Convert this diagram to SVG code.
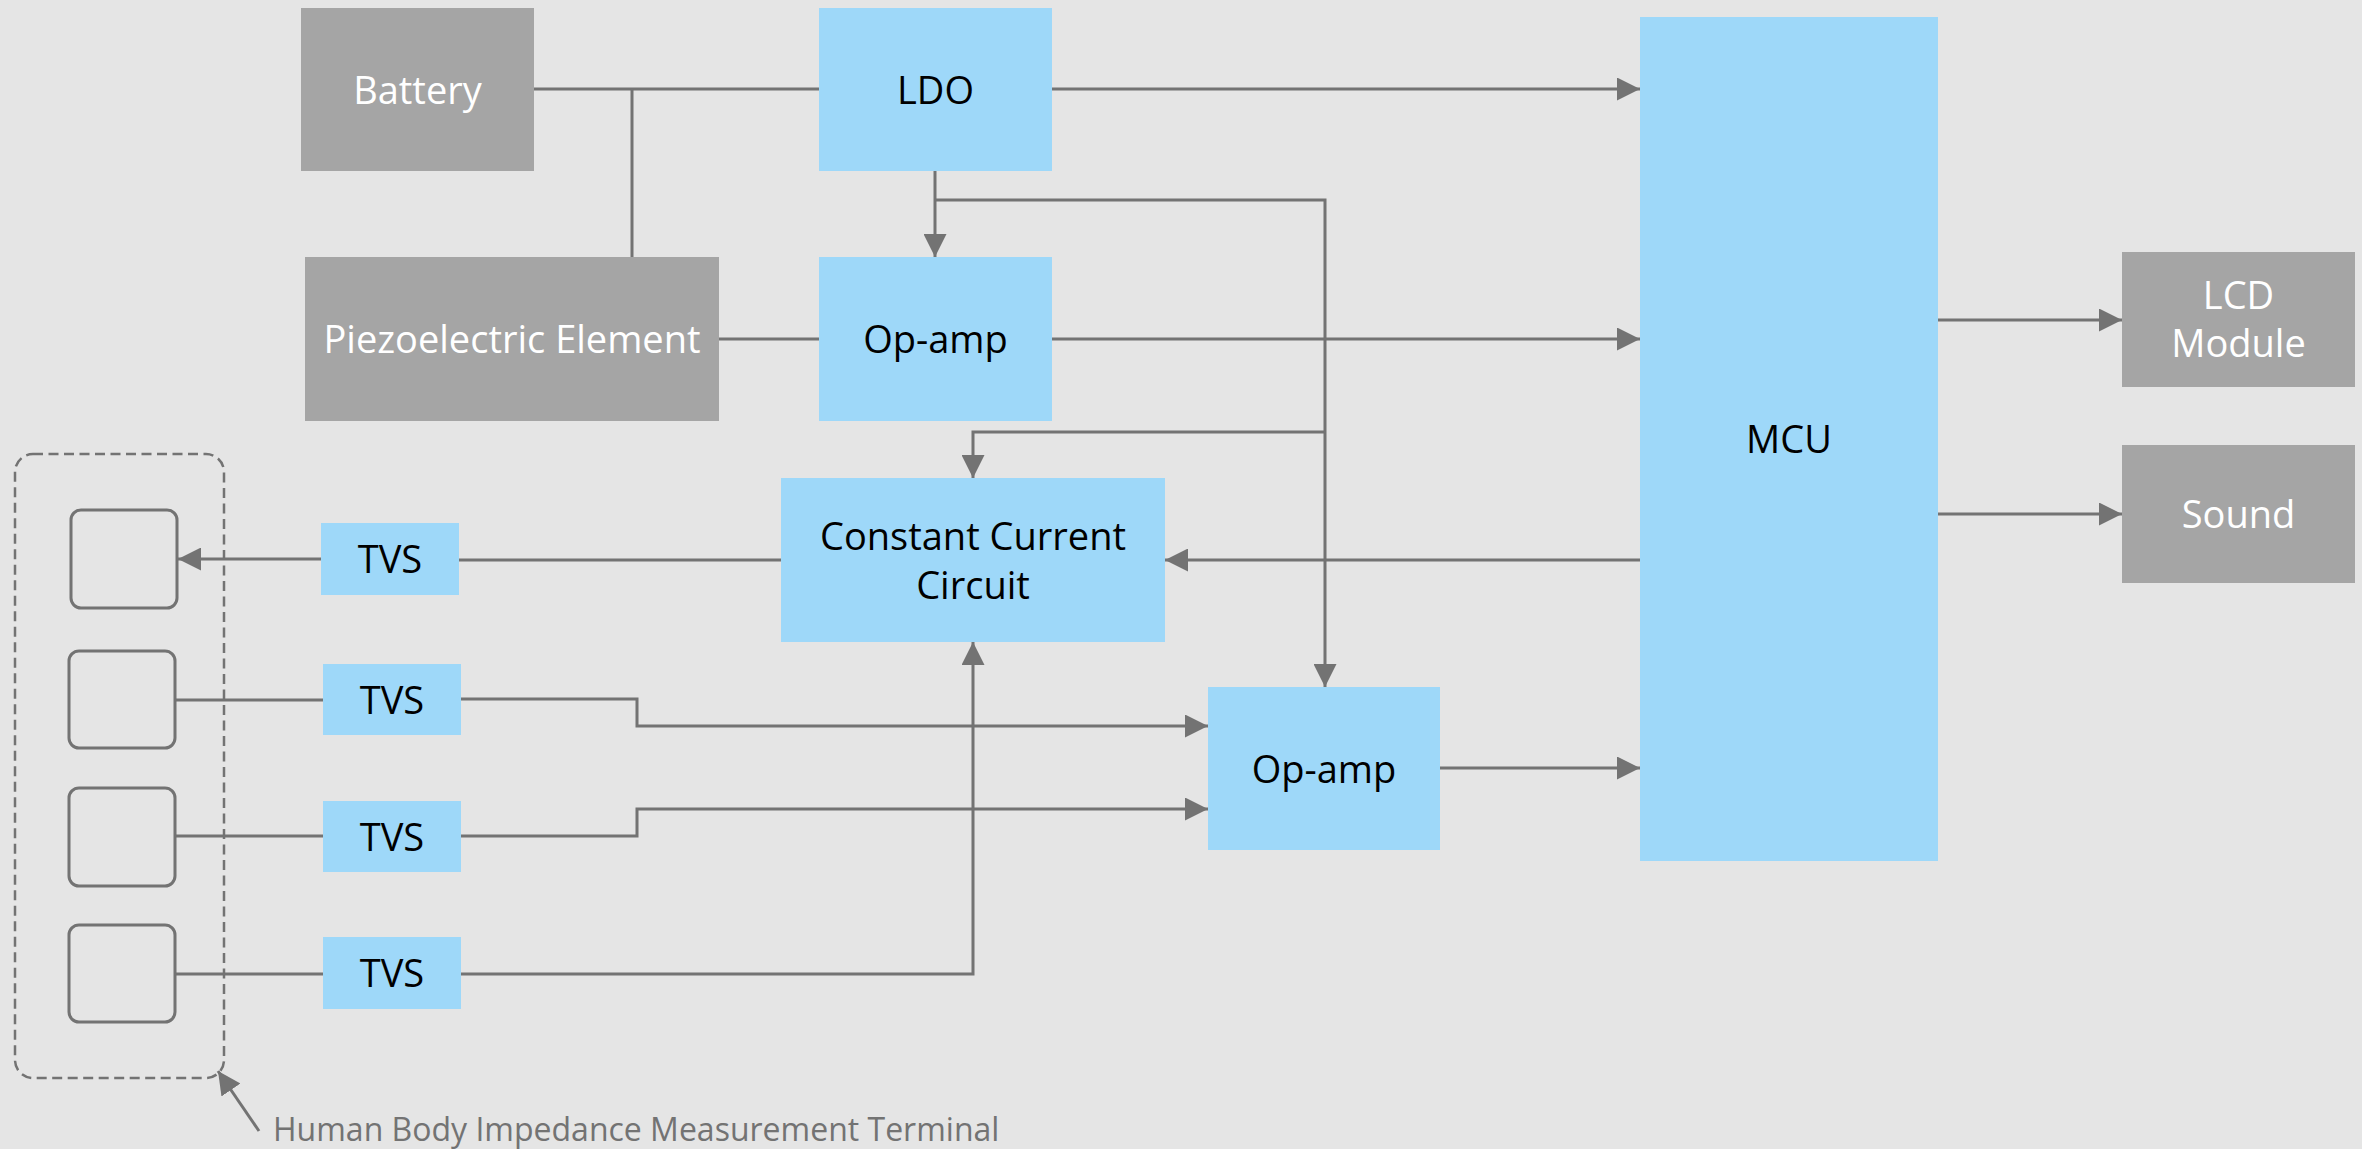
<svg xmlns="http://www.w3.org/2000/svg" width="2362" height="1149" viewBox="0 0 2362 1149">
<defs>
<style>
.bg{fill:#E5E5E5}
.gray{fill:#A5A5A5}
.blue{fill:#9ED8F9}
.tw{font-family:"Open Sans","Noto Sans",sans-serif;font-size:38px;fill:#FFFFFF;text-anchor:middle;dominant-baseline:central}
.tb{font-family:"Open Sans","Noto Sans",sans-serif;font-size:38px;fill:#000000;text-anchor:middle;dominant-baseline:central}
.term{fill:none;stroke:#737373;stroke-width:3}
.dash{fill:none;stroke:#737373;stroke-width:2.5;stroke-dasharray:10 5.5}
.conn path{fill:none;stroke:#737373;stroke-width:3}
.lbl{font-family:"Open Sans","Noto Sans",sans-serif;font-size:32px;fill:#737373}
</style>
<marker id="arr" markerUnits="userSpaceOnUse" markerWidth="23" markerHeight="23" refX="23" refY="11.5" orient="auto">
<path d="M0,0 L23,11.5 L0,23 Z" fill="#737373"/>
</marker>
</defs>
<rect class="bg" x="0" y="0" width="2362" height="1149"/>

<g id="battery"><rect class="gray" x="301" y="8" width="233" height="163"/><text class="tw" x="417.5" y="88.5">Battery</text></g>
<g id="ldo"><rect class="blue" x="819" y="8" width="233" height="163"/><text class="tb" x="935.5" y="88.5">LDO</text></g>
<g id="piezo"><rect class="gray" x="305" y="257" width="414" height="164"/><text class="tw" x="512" y="338">Piezoelectric Element</text></g>
<g id="opamp1"><rect class="blue" x="819" y="257" width="233" height="164"/><text class="tb" x="935.5" y="338">Op-amp</text></g>
<g id="cc"><rect class="blue" x="781" y="478" width="384" height="164"/><text class="tb" x="973" y="535">Constant Current</text><text class="tb" x="973" y="584">Circuit</text></g>
<g id="opamp2"><rect class="blue" x="1208" y="687" width="232" height="163"/><text class="tb" x="1324" y="767.5">Op-amp</text></g>
<g id="mcu"><rect class="blue" x="1640" y="17" width="298" height="844"/><text class="tb" x="1789" y="438">MCU</text></g>
<g id="lcd"><rect class="gray" x="2122" y="252" width="233" height="135"/><text class="tw" x="2238.5" y="294">LCD</text><text class="tw" x="2238.5" y="342">Module</text></g>
<g id="sound"><rect class="gray" x="2122" y="445" width="233" height="138"/><text class="tw" x="2238.5" y="513">Sound</text></g>

<g id="tvs1"><rect class="blue" x="321" y="523" width="138" height="72"/><text class="tb" x="390" y="558">TVS</text></g>
<g id="tvs2"><rect class="blue" x="323" y="664" width="138" height="71"/><text class="tb" x="392" y="698.5">TVS</text></g>
<g id="tvs3"><rect class="blue" x="323" y="801" width="138" height="71"/><text class="tb" x="392" y="835.5">TVS</text></g>
<g id="tvs4"><rect class="blue" x="323" y="937" width="138" height="72"/><text class="tb" x="392" y="972">TVS</text></g>

<g id="terminal">
<rect class="dash" x="15" y="454" width="209" height="624" rx="18"/>
<rect class="term" x="71" y="510" width="106" height="98" rx="10"/>
<rect class="term" x="69" y="651" width="106" height="97" rx="10"/>
<rect class="term" x="69" y="788" width="106" height="98" rx="10"/>
<rect class="term" x="69" y="925" width="106" height="97" rx="10"/>
<text class="lbl" x="273" y="1141">Human Body Impedance Measurement Terminal</text>
</g>

<g class="conn" id="connectors">
<path d="M534,89 H819"/>
<path d="M632,89 V257"/>
<path d="M1052,89 H1640" marker-end="url(#arr)"/>
<path d="M935,171 V257" marker-end="url(#arr)"/>
<path d="M935,200 H1325 V687" marker-end="url(#arr)"/>
<path d="M1325,432 H973 V478" marker-end="url(#arr)"/>
<path d="M719,339 H819"/>
<path d="M1052,339 H1640" marker-end="url(#arr)"/>
<path d="M1640,560 H1165" marker-end="url(#arr)"/>
<path d="M781,560 H459"/>
<path d="M321,559 H178" marker-end="url(#arr)"/>
<path d="M175,700 H323"/>
<path d="M461,699 H637 V726 H1208" marker-end="url(#arr)"/>
<path d="M175,836 H323"/>
<path d="M461,836 H637 V809 H1208" marker-end="url(#arr)"/>
<path d="M175,974 H323"/>
<path d="M461,974 H973 V642" marker-end="url(#arr)"/>
<path d="M1440,768 H1640" marker-end="url(#arr)"/>
<path d="M1938,320 H2122" marker-end="url(#arr)"/>
<path d="M1938,514 H2122" marker-end="url(#arr)"/>
<path d="M259,1131 L218,1071" marker-end="url(#arr)"/>
</g>
</svg>
